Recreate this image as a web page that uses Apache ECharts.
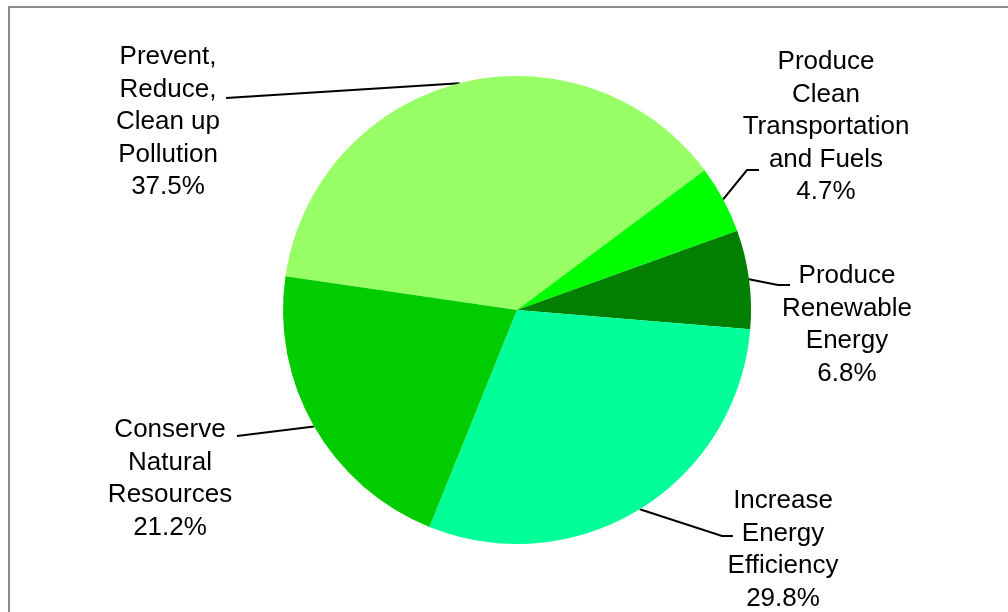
<!DOCTYPE html>
<html>
<head>
<meta charset="utf-8">
<script src="https://cdn.jsdelivr.net/npm/echarts@6/dist/echarts.min.js"></script>
<style>
html,body{margin:0;padding:0;background:#fff;}
#c{width:1008px;height:612px;}
</style>
</head>
<body>
<div id="c"></div>
<script>
// Data
const categories = [
  'Prevent,\nReduce,\nClean up\nPollution',
  'Produce\nClean\nTransportation\nand Fuels',
  'Produce\nRenewable\nEnergy',
  'Increase\nEnergy\nEfficiency',
  'Conserve\nNatural\nResources'
];
const values = [37.5, 4.7, 6.8, 29.8, 21.2];
const colors = ['#99FF66', '#00FF00', '#007F00', '#00FF99', '#00CC00'];

// Label layout (label block centre, leader knee and end)
const labelPos = [
  {x: 168, y: 122, pts: [[226, 98]]},
  {x: 826, y: 127, pts: [[747, 170], [759, 170]]},
  {x: 847, y: 325, pts: [[778, 285], [790, 285]]},
  {x: 783, y: 550, pts: [[722, 536], [733, 536]]},
  {x: 170, y: 479, pts: [[237, 436]]}
];

const chart = echarts.init(document.getElementById('c'), null, {renderer: 'canvas'});
chart.setOption({
  backgroundColor: '#ffffff',
  animation: false,
  graphic: [{
    type: 'rect',
    shape: {x: 9, y: 7, width: 1100, height: 700},
    style: {fill: 'none', stroke: '#8c8c8c', lineWidth: 2},
    silent: true, z: 0
  }],
  series: [{
    type: 'pie',
    center: [517, 310],
    radius: [0, 234],
    startAngle: 171.7,
    clockwise: true,
    avoidLabelOverlap: false,
    itemStyle: {borderWidth: 0},
    label: {
      show: true,
      position: 'outside',
      color: '#000',
      fontFamily: 'Liberation Sans, Arial, sans-serif',
      fontSize: 26,
      lineHeight: 32.5,
      align: 'center',
      formatter: p => p.name + '\n' + p.value.toFixed(1) + '%'
    },
    labelLine: {
      show: true,
      length: 20,
      length2: 10,
      lineStyle: {color: '#000', width: 2}
    },
    labelLayout: function (params) {
      const lp = labelPos[params.dataIndex];
      const start = params.labelLinePoints ? params.labelLinePoints[0] : lp.pts[0];
      return {
        x: lp.x,
        y: lp.y,
        align: 'center',
        verticalAlign: 'middle',
        labelLinePoints: [start].concat(lp.pts.length === 1 ? [lp.pts[0], lp.pts[0]] : lp.pts)
      };
    },
    data: categories.map((c, i) => ({name: c, value: values[i], itemStyle: {color: colors[i]}}))
  }]
});
</script>
</body>
</html>
